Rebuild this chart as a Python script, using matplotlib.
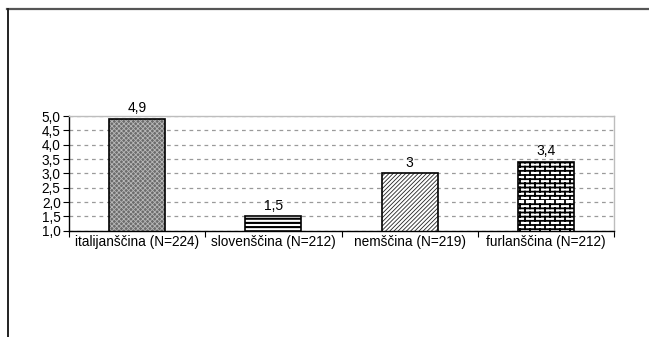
import warnings
import numpy as np
import matplotlib
matplotlib.use("Agg")
import matplotlib.pyplot as plt
from matplotlib.path import Path
from matplotlib.lines import Line2D
from matplotlib import hatch as mhatch

warnings.filterwarnings("ignore")

# ---- data -------------------------------------------------------------
categories = ["italijanščina (N=224)", "slovenščina (N=212)",
              "nemščina (N=219)", "furlanščina (N=212)"]
values = [4.9, 1.5, 3.0, 3.4]
value_labels = ["4,9", "1,5", "3", "3,4"]
y_ticks = [1.0, 1.5, 2.0, 2.5, 3.0, 3.5, 4.0, 4.5, 5.0]


# ---- a brick hatch pattern ('b') --------------------------------------
class BrickHatch(mhatch.HatchPatternBase):
    def __init__(self, hatch, density):
        self.rows = int(hatch.count('b') * density)
        self.cols = (self.rows * 5) // 12
        if self.rows:
            self.num_vertices = 2 * self.rows + 2 * self.rows * self.cols
        else:
            self.num_vertices = 0

    def set_vertices_and_codes(self, vertices, codes):
        r, c = self.rows, self.cols
        ys = np.arange(r) / r
        h = 1.0 / r
        k = 0
        for i, y in enumerate(ys):
            vertices[k] = (0.0, y)
            vertices[k + 1] = (1.0, y)
            codes[k] = Path.MOVETO
            codes[k + 1] = Path.LINETO
            k += 2
            off = 0.5 / c if i % 2 else 0.0
            for j in range(c):
                x = j / c + off
                vertices[k] = (x, y)
                vertices[k + 1] = (x, y + h)
                codes[k] = Path.MOVETO
                codes[k + 1] = Path.LINETO
                k += 2


mhatch._hatch_types.append(BrickHatch)

plt.rcParams['font.family'] = ['Liberation Sans', 'DejaVu Sans']
plt.rcParams['font.size'] = 9.8

fig = plt.figure(figsize=(6.49, 3.37), dpi=100)
ax = fig.add_axes([69 / 649, 1 - 230.7 / 337, (614 - 69) / 649, (230.7 - 116) / 337])

x = np.arange(len(categories))
styles = [
    dict(facecolor='#6c6c6c', hatch='xxxxxxx', hatch_color='#b8b8b8', hlw=0.6),
    dict(facecolor='white', hatch='----', hatch_color='black', hlw=1.5),
    dict(facecolor='white', hatch='////////', hatch_color='#222222', hlw=0.6),
    dict(facecolor='white', hatch='bbbb', hatch_color='black', hlw=1.3),
]

for xi, v, st in zip(x, values, styles):
    with plt.rc_context({'hatch.linewidth': st['hlw'], 'hatch.color': st['hatch_color']}):
        b = ax.bar(xi, v, width=0.41, facecolor=st['facecolor'],
                   edgecolor=st['hatch_color'], hatch=st['hatch'],
                   linewidth=0, zorder=2)
        for p in b:
            if hasattr(p, 'set_hatch_linewidth'):
                p.set_hatch_linewidth(st['hlw'])
    ax.bar(xi, v, width=0.41, fill=False, edgecolor='black',
           linewidth=1.2, zorder=3)

for xi, v, lab in zip(x, values, value_labels):
    ax.annotate(lab, (xi, v), xytext=(0, 2.5), textcoords='offset points',
                ha='center', va='bottom', fontsize=10)

ax.set_xlim(-0.5, len(categories) - 0.5)
ax.set_ylim(1.0, 5.0)
ax.set_yticks(y_ticks)
ax.set_yticklabels([f"{t:.1f}".replace('.', ',') for t in y_ticks])
ax.set_xticks(x)
ax.set_xticklabels(categories)
ax.set_xticks(np.arange(len(categories) + 1) - 0.5, minor=True)
ax.tick_params(axis='x', which='major', length=0, pad=3)
ax.tick_params(axis='x', which='minor', length=4, width=0.8, direction='out')
ax.tick_params(axis='y', length=4, width=0.8, pad=2)

ax.yaxis.grid(True, color='#9a9a9a', linestyle=(0, (3, 3)), linewidth=0.9, zorder=0)
ax.set_axisbelow(True)
for side in ['top', 'right']:
    ax.spines[side].set_color('#bdbdbd')
    ax.spines[side].set_linewidth(1.0)
for side in ['left', 'bottom']:
    ax.spines[side].set_color('black')
    ax.spines[side].set_linewidth(1.0)

# page frame lines
fig.add_artist(Line2D([7 / 649, 1.0], [1 - 8.5 / 337] * 2, color='#555555',
                      linewidth=1.6, transform=fig.transFigure))
fig.add_artist(Line2D([7.5 / 649] * 2, [0.0, 1 - 8.5 / 337], color='#222222',
                      linewidth=1.4, transform=fig.transFigure))

fig.savefig("out.png", dpi=100)
